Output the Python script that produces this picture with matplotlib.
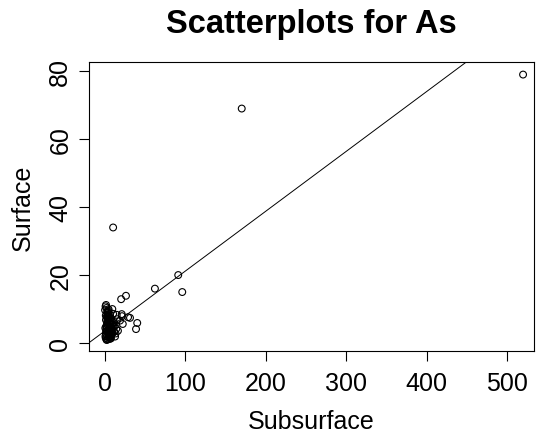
import matplotlib
matplotlib.use("Agg")
import matplotlib.pyplot as plt

# Data
subsurface = [520, 170, 10, 91, 96, 62, 26, 20, 31, 40, 38.5, 22, 21, 9, 1.2, 0,
              20.7, 28.6, 14.5, 12.4, 16, 18.6, 12, 14, 11, 13, 15, 10,
              0.5, 1, 1.5, 2, 2.5, 3, 3.5, 4, 4.5, 5, 5.5, 6, 6.5, 7, 7.5, 8, 8.5, 9, 9.5,
              0.8, 1.3, 1.8, 2.3, 2.8, 3.3, 3.8, 4.3, 4.8, 5.3, 5.8, 6.3, 6.8, 7.3, 7.8,
              1.1, 2.1, 3.1, 4.1, 5.1, 6.1, 7.1, 8.1, 0.3, 1.6, 2.6, 3.6, 4.6, 5.6, 6.6,
              0.6, 1.7, 2.9, 3.9, 4.9, 5.9, 6.9, 8.9, 1.4, 2.4, 3.4, 4.4, 0.9, 2.2, 5.2,
              7.7, 9.8, 11.5, 10.5, 8.3, 6.4]
surface = [79, 69, 34, 20, 15, 16, 13.9, 12.9, 7.4, 5.9, 4.1, 5.6, 7.9, 10, 11.2, 9.7,
           8.5, 7.6, 8.3, 1.9, 3.6, 6.6, 5.0, 4.2, 6.2, 2.8, 7.0, 8.6,
           2.0, 3.0, 4.0, 5.0, 6.0, 7.0, 8.0, 9.0, 2.5, 3.5, 4.5, 5.5, 6.5, 2.2, 3.2, 4.2, 5.2, 3.0, 6.0,
           1.5, 2.5, 3.5, 4.5, 5.5, 6.5, 7.5, 8.5, 1.8, 2.8, 3.8, 4.8, 1.6, 2.6, 3.6,
           6.8, 7.8, 8.8, 9.5, 1.2, 2.1, 1.4, 2.4, 4.4, 10.3, 9.2, 7.2, 6.2, 3.1, 5.8,
           10.8, 1.0, 5.4, 6.9, 7.9, 8.4, 1.3, 2.9, 4.9, 3.4, 1.1, 9.9, 8.1, 0.9, 1.7,
           4.6, 5.3, 3.3, 4.7, 6.4, 7.3]
line_intercept = 3.6
line_slope = 0.176

plt.rcParams['font.family'] = ['Liberation Sans', 'DejaVu Sans']

fig = plt.figure(figsize=(5.38, 4.39), dpi=100)
W, H = 538, 439
left, right, top, bottom = 89, 534, 63, 352
ax = fig.add_axes([left / W, 1 - bottom / H, (right - left) / W, (bottom - top) / H])

ax.scatter(subsurface, surface, s=24, facecolors='none', edgecolors='black', linewidths=0.8)
ax.axline((0, line_intercept), slope=line_slope, color='black', linewidth=0.7)

ax.set_xlim(-20, 533.6)
ax.set_ylim(-2.35, 82.7)
ax.set_xticks([0, 100, 200, 300, 400, 500])
ax.set_yticks([0, 20, 40, 60, 80])
ax.tick_params(axis='both', direction='out', length=7.5, width=0.8, labelsize=18)
ax.tick_params(axis='x', pad=7)
ax.tick_params(axis='y', pad=4.5)
for lab in ax.get_yticklabels():
    lab.set_rotation(90)
    lab.set_va('center')
for s in ax.spines.values():
    s.set_linewidth(0.8)

ax.set_xlabel('Subsurface', fontsize=18, labelpad=10)
ax.set_ylabel('Surface', fontsize=18, labelpad=10)
fig.text((left + right) / 2 / W, 1 - 25 / H, 'Scatterplots for As', fontsize=23.5,
         fontweight='bold', ha='center', va='center')

fig.savefig('out.png', dpi=100)
